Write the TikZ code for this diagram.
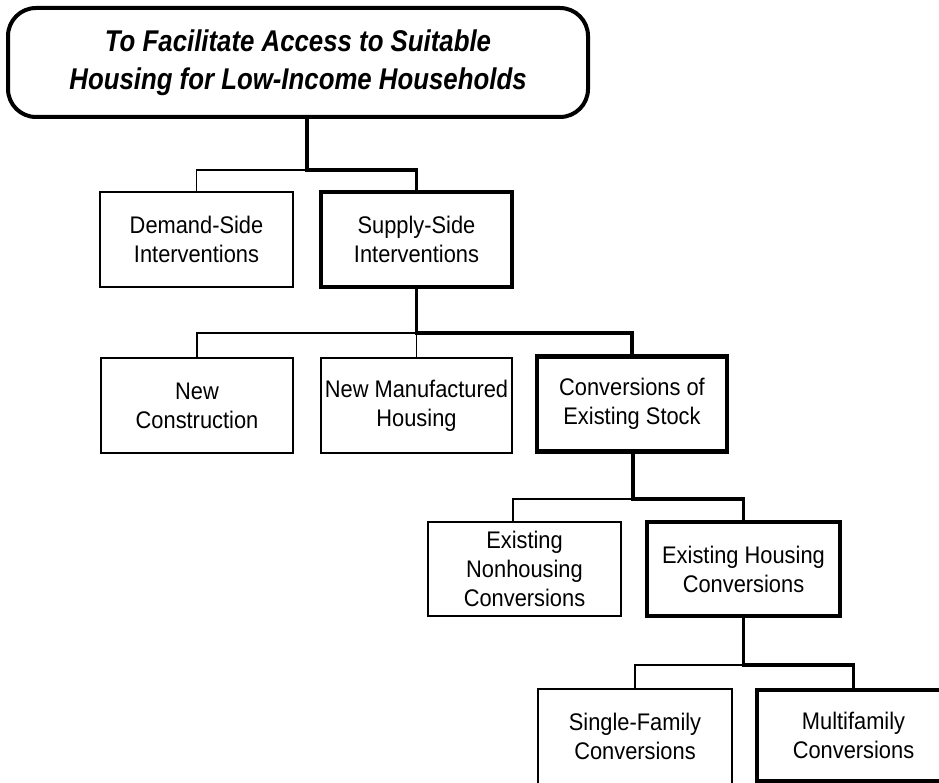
\documentclass[tikz,border=0pt]{standalone}
\usepackage{fontspec}
\setmainfont{Liberation Sans}
\newfontfamily\bodyfont[FakeStretch=0.91]{Liberation Sans}
\newfontfamily\titlefont[FakeStretch=0.86]{Liberation Sans}
\begin{document}
\begin{tikzpicture}[x=1pt,y=-1pt,
  box/.style={draw, line width=1.6pt, align=center, inner sep=0pt,
    minimum width=193pt, minimum height=95pt,
    font=\bodyfont\fontsize{24}{29}\selectfont},
  hbox/.style={box, line width=4.5pt},
  topbox/.style={draw, line width=4pt, rounded corners=28pt, align=center,
    inner sep=0pt, minimum width=580pt, minimum height=109pt,
    font=\titlefont\bfseries\itshape\fontsize{30}{38}\selectfont},
  link/.style={line width=1.6pt},
  hlink/.style={line width=3.4pt}]
\useasboundingbox (0,0) rectangle (939,783);
\clip (0,0) rectangle (939,783);
\node[topbox] (top) at (298,62.5) {To Facilitate Access to Suitable\\Housing for Low-Income Households};
\node[box] (demand) at (196.5,239.5) {Demand-Side\\Interventions};
\node[hbox, minimum width=191pt] (supply) at (416.5,239.5) {Supply-Side\\Interventions};
\node[box, minimum width=192pt] (nc) at (197,405.5) {New\\Construction};
\node[box, minimum width=191pt] (nm) at (416.5,405.5) {New Manufactured\\Housing};
\node[hbox, minimum width=190pt] (conv) at (632,404) {Conversions of\\Existing Stock};
\node[box, minimum height=94pt] (nonh) at (524.5,569) {Existing\\Nonhousing\\Conversions};
\node[hbox, minimum height=94pt] (hous) at (743.5,569) {Existing Housing\\Conversions};
\node[box, minimum width=194pt] (sf) at (635,736.5) {Single-Family\\Conversions};
\node[hbox, minimum height=91pt] (mf) at (853.5,735.5) {Multifamily\\Conversions};
% level 1
\coordinate (j1) at (307,170);
\draw[link] (j1) -- (j1 -| demand.north) -- (demand.north);
\draw[hlink] (j1 |- top.south) -- (j1) -- (j1 -| supply.north) -- (supply.north);
% level 2
\coordinate (j2) at (416.5,333);
\draw[link] (j2) -- (j2 -| nc.north) -- (nc.north);
\draw[link] (j2) -- (nm.north);
\draw[hlink] (supply.south) -- (j2) -- (j2 -| conv.north) -- (conv.north);
% level 3
\coordinate (j3) at (633,499);
\coordinate (k3) at (513,499);
\draw[link] (j3) -- (k3) -- (k3 |- nonh.north);
\draw[hlink] (j3 |- conv.south) -- (j3) -- (j3 -| hous.north) -- (hous.north);
% level 4
\coordinate (j4) at (743.5,665);
\draw[link] (j4) -- (j4 -| sf.north) -- (sf.north);
\draw[hlink] (hous.south) -- (j4) -- (j4 -| mf.north) -- (mf.north);
\end{tikzpicture}
\end{document}
